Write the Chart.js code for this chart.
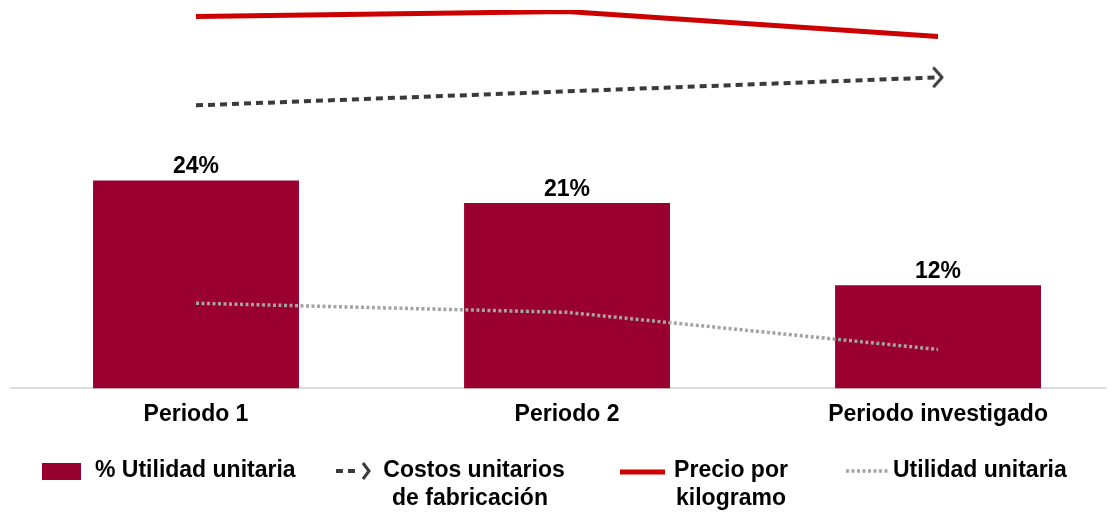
<!DOCTYPE html>
<html>
<head>
<meta charset="utf-8">
<script src="https://cdn.jsdelivr.net/npm/chart.js@4.4.1/dist/chart.umd.min.js"></script>
<style>
html, body { margin: 0; padding: 0; background: #fff; overflow: hidden; }
#wrap { width: 1115px; height: 515px; position: relative; }
</style>
</head>
<body>
<div id="wrap"><canvas id="chart"></canvas></div>
<script>
// Datos
const periodos = ['Periodo 1', 'Periodo 2', 'Periodo investigado'];
const utilidadPct = [24.0, 21.4, 11.9];     // % Utilidad unitaria (barras)
const precioKg = [98.3, 99.6, 93.0];        // Precio por kilogramo (indice, eje oculto)
const costosFab = [74.8, 78.5, 82.2];       // Costos unitarios de fabricacion
const utilidadUnit = [22.5, 20.1, 10.3];    // Utilidad unitaria

const FONT = "'Liberation Sans', Arial, sans-serif";
const colorBarra = '#990030';
const colorPrecio = '#cc0000';
const colorCostos = '#3a3a3a';
const colorUtil = '#a3a3a3';

const toPts = arr => periodos.map((_, i) => ({ x: i, y: arr[i] }));

// flecha al final de la linea de costos
const flecha = document.createElement('canvas');
flecha.width = 14;
flecha.height = 22;
(function () {
  const c = flecha.getContext('2d');
  c.strokeStyle = colorCostos;
  c.lineWidth = 3;
  c.lineCap = 'round';
  c.lineJoin = 'round';
  c.beginPath();
  c.moveTo(3, 2);
  c.lineTo(11, 11);
  c.lineTo(3, 20);
  c.stroke();
})();

// etiquetas de valor sobre las barras
const etiquetasBarras = {
  id: 'etiquetasBarras',
  afterDatasetsDraw(chart) {
    const { ctx } = chart;
    const meta = chart.getDatasetMeta(0);
    ctx.save();
    ctx.font = 'bold 23px ' + FONT;
    ctx.fillStyle = '#000';
    ctx.textAlign = 'center';
    ctx.textBaseline = 'alphabetic';
    meta.data.forEach((bar, i) => {
      ctx.fillText(Math.round(utilidadPct[i]) + '%', bar.x, bar.y - 7);
    });
    ctx.restore();
  }
};

// leyenda propia (textos en dos lineas)
const leyenda = {
  id: 'leyenda',
  afterDraw(chart) {
    const { ctx } = chart;
    const y1 = 471, y2 = 499;
    ctx.save();
    ctx.font = 'bold 23px ' + FONT;
    ctx.fillStyle = '#000';
    ctx.textBaseline = 'middle';

    // % Utilidad unitaria
    ctx.fillStyle = colorBarra;
    ctx.fillRect(42, 463, 39, 17);
    ctx.fillStyle = '#000';
    ctx.textAlign = 'left';
    ctx.fillText('% Utilidad unitaria', 95, y1);

    // Costos unitarios de fabricacion
    ctx.strokeStyle = colorCostos;
    ctx.lineWidth = 4;
    ctx.setLineDash([7, 5]);
    ctx.beginPath();
    ctx.moveTo(336, y1);
    ctx.lineTo(360, y1);
    ctx.stroke();
    ctx.setLineDash([]);
    ctx.lineWidth = 3;
    ctx.beginPath();
    ctx.moveTo(363, y1 - 8);
    ctx.lineTo(369, y1);
    ctx.lineTo(363, y1 + 8);
    ctx.stroke();
    ctx.textAlign = 'center';
    ctx.fillText('Costos unitarios', 474, y1);
    ctx.fillText('de fabricación', 470, y2);

    // Precio por kilogramo
    ctx.strokeStyle = colorPrecio;
    ctx.lineWidth = 5;
    ctx.beginPath();
    ctx.moveTo(620, y1 + 1);
    ctx.lineTo(665, y1 + 1);
    ctx.stroke();
    ctx.fillText('Precio por', 731, y1);
    ctx.fillText('kilogramo', 731, y2);

    // Utilidad unitaria
    ctx.strokeStyle = colorUtil;
    ctx.lineWidth = 3.5;
    ctx.setLineDash([3, 2.5]);
    ctx.beginPath();
    ctx.moveTo(846, y1);
    ctx.lineTo(889, y1);
    ctx.stroke();
    ctx.setLineDash([]);
    ctx.textAlign = 'left';
    ctx.fillText('Utilidad unitaria', 893, y1);
    ctx.restore();
  }
};

new Chart(document.getElementById('chart'), {
  type: 'bar',
  data: {
    datasets: [
      {
        type: 'bar',
        label: '% Utilidad unitaria',
        data: toPts(utilidadPct),
        backgroundColor: colorBarra,
        borderWidth: 0,
        barPercentage: 0.555,
        categoryPercentage: 1,
        yAxisID: 'y',
        order: 2
      },
      {
        type: 'line',
        label: 'Precio por kilogramo',
        data: toPts(precioKg),
        borderColor: colorPrecio,
        borderWidth: 5,
        pointRadius: 0,
        tension: 0,
        yAxisID: 'y2',
        order: 1
      },
      {
        type: 'line',
        label: 'Costos unitarios de fabricación',
        data: toPts(costosFab),
        borderColor: colorCostos,
        borderWidth: 4,
        borderDash: [7, 5],
        pointRadius: c => (c.dataIndex === costosFab.length - 1 ? 6 : 0),
        pointStyle: c => (c.dataIndex === costosFab.length - 1 ? flecha : 'circle'),
        tension: 0,
        yAxisID: 'y2',
        order: 1
      },
      {
        type: 'line',
        label: 'Utilidad unitaria',
        data: toPts(utilidadUnit),
        borderColor: colorUtil,
        borderWidth: 3.5,
        borderDash: [3, 2.5],
        pointRadius: 0,
        tension: 0,
        yAxisID: 'y2',
        order: 1
      }
    ]
  },
  options: {
    responsive: true,
    maintainAspectRatio: false,
    animation: false,
    layout: { padding: { left: 10.5, right: 0, top: 0, bottom: 83 } },
    scales: {
      x: {
        type: 'linear',
        offset: false,
        min: -0.5,
        max: 2.45,
        afterBuildTicks: s => { s.ticks = periodos.map((_, i) => ({ value: i })); },
        grid: { display: false, offset: false },
        border: { display: true, color: '#dcdcdc', width: 2 },
        ticks: {
          callback: v => periodos[v],
          autoSkip: false,
          maxRotation: 0,
          padding: 4,
          color: '#000',
          font: { family: FONT, size: 23, weight: 'bold' }
        }
      },
      y: { display: false, min: 0, max: 43.67 },
      y2: { display: false, min: 0, max: 100 }
    },
    plugins: {
      legend: { display: false },
      tooltip: { enabled: false }
    }
  },
  plugins: [etiquetasBarras, leyenda]
});
</script>
</body>
</html>
